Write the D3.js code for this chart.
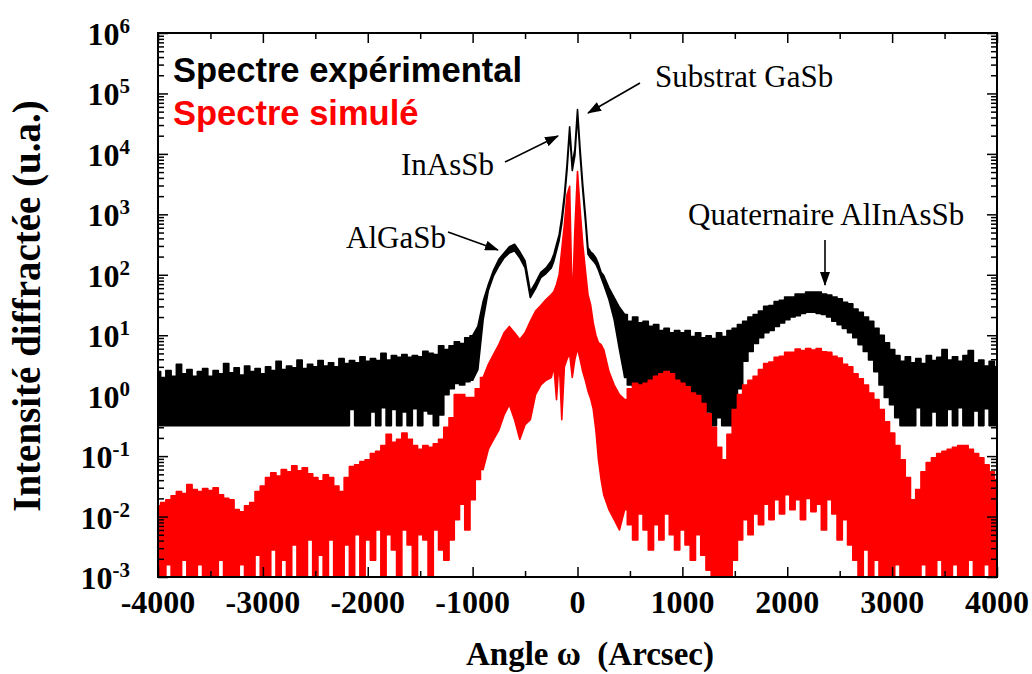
<!DOCTYPE html>
<html>
<head>
<meta charset="utf-8">
<script src="https://cdn.jsdelivr.net/npm/d3@7"></script>
<style>
  body { margin: 0; background: #fff; }
  svg { display: block; }
</style>
</head>
<body>
<div id="chart"></div>
<script>
// sampling grid of the spectra (Arcsec), finer around the substrate peak
const angles = [].concat(d3.range(-4000, -299, 50), d3.range(-250, 226, 25), d3.range(250, 4001, 50));

// experimental spectrum: upper and lower edge of the noisy trace (u.a.)
const expTop = [
  2.5, 2.0, 2.6, 2.1, 3.3, 2.3, 2.7, 2.1, 2.5, 2.8,
  2.1, 2.6, 2.3, 3.4, 2.4, 2.9, 2.2, 3.1, 2.5, 2.8,
  2.3, 3.0, 2.6, 3.7, 2.7, 3.1, 2.9, 3.9, 2.8, 3.3,
  3.0, 3.8, 3.1, 3.5, 3.0, 4.1, 3.4, 3.8, 3.5, 4.4,
  3.7, 4.1, 3.8, 5.0, 3.9, 4.6, 4.3, 4.8, 4.3, 4.6,
  4.4, 5.4, 5.0, 4.8, 6.7, 5.8, 6.7, 7.8, 7.3, 9.1,
  9.8, 14, 36, 69, 120, 180, 230, 290, 320, 240,
  170, 53, 74, 110, 130,
  170, 220, 320, 460, 890, 2100, 6700, 28000, 6700, 12000,
  54000, 12000, 3100, 990, 280, 240, 220, 190, 150, 110,
  97, 61, 42, 29, 22, 17, 20, 16, 17, 14,
  15, 12, 13, 11, 12, 11, 12, 9.5, 11, 9.1,
  9.8, 8.8, 11, 9.5, 12, 13, 15, 17, 20, 22,
  25, 30, 31, 36, 38, 43, 43, 48, 48, 52,
  52, 52, 48, 46, 43, 40, 35, 33, 27, 24,
  20, 17, 13, 10, 7.5, 5.8, 4.6, 3.7, 4.4, 3.5,
  4.1, 3.4, 4.6, 3.8, 4.3, 5.8, 3.9, 4.4, 3.7, 4.6,
  5.6, 3.5, 3.9, 3.1, 3.7, 3.0
];
const expBottom = [
  0.32, 0.32, 0.32, 0.32, 0.32, 0.32, 0.32, 0.32, 0.32, 0.32,
  0.32, 0.32, 0.32, 0.32, 0.32, 0.32, 0.32, 0.32, 0.32, 0.32,
  0.32, 0.32, 0.32, 0.32, 0.32, 0.32, 0.32, 0.32, 0.32, 0.32,
  0.32, 0.32, 0.32, 0.32, 0.32, 0.32, 0.32,
  0.59, 0.32, 0.32, 0.32, 0.54, 0.32, 0.63, 0.32, 0.59, 0.32,
  0.54, 0.32, 0.61, 0.32, 0.56, 0.50, 0.32,
  0.48, 1.04, 1.3, 1.6, 1.5, 1.7, 1.8, 2.7, 18, 55,
  97, 140, 190, 230, 250, 190, 130, 42, 59, 90, 105,
  130, 170, 250, 370, 700, 1700, 5300, 23000, 5300, 9400,
  43000, 9400, 2500, 790, 220, 190, 170, 150, 120, 90,
  69, 39, 18, 5.8, 2.0, 1.5, 1.4, 1.2, 1.04, 0.86,
  0.93, 0.59, 0.80, 0.48, 0.71, 0.40, 0.63, 0.32, 0.59, 0.32,
  0.54, 0.32, 0.43, 0.32, 0.32, 0.48, 1.3, 3.7, 5.4, 7.3,
  9.1, 11, 12, 14, 16, 18, 20, 21, 23, 24,
  24, 23, 22, 20, 17, 15, 13, 11, 9.1, 7.0,
  5.4, 3.9, 2.5, 1.5, 0.93, 0.71, 0.43, 0.32, 0.32, 0.32,
  0.63, 0.32, 0.32, 0.54, 0.32, 0.32, 0.59, 0.32, 0.63, 0.32,
  0.32, 0.56, 0.32, 0.61, 0.32, 0.32
];

// simulated spectrum: upper and lower edge of the fringes (u.a.)
const simTop = [
  0.015, 0.017, 0.019, 0.022, 0.026, 0.024, 0.034, 0.028, 0.026, 0.029,
  0.027, 0.030, 0.023, 0.020, 0.019, 0.013, 0.012, 0.015, 0.017, 0.026,
  0.032, 0.044, 0.053, 0.047, 0.060, 0.055, 0.069, 0.057, 0.064, 0.051,
  0.044, 0.039, 0.049, 0.044, 0.032, 0.026, 0.044, 0.067, 0.072, 0.081,
  0.087, 0.11, 0.12, 0.15, 0.23, 0.17, 0.19, 0.24, 0.19, 0.15,
  0.13, 0.15, 0.14, 0.16, 0.19, 0.30, 0.43, 1.04, 1.04, 0.93,
  0.93, 1.3, 2.0, 3.3, 4.8, 7.0, 11, 14, 11, 8.5,
  11, 17, 25, 31, 39,
  47, 53, 69, 100, 260, 680, 2100, 2900, 30, 560,
  5100, 1200, 320, 120, 47, 32, 16, 10, 7.5, 7.0,
  5.8, 2.5, 1.5, 1.04, 0.86, 1.3, 1.6, 1.5, 1.6, 1.8,
  2.1, 2.3, 2.5, 2.3, 1.8, 1.6, 1.4, 1.1, 1.0, 0.74,
  0.50, 0.30, 0.14, 0.087, 0.23, 0.59, 1.04, 1.5, 1.8, 2.1,
  2.7, 3.4, 3.6, 4.3, 4.5, 5.2, 5.2, 5.9, 5.6, 6.0,
  5.7, 6.0, 5.3, 5.2, 4.5, 4.2, 3.3, 3.0, 2.3, 1.9,
  1.5, 1.1, 0.86, 0.59, 0.37, 0.24, 0.15, 0.087, 0.044, 0.019,
  0.028, 0.055, 0.078, 0.094, 0.11, 0.12, 0.13, 0.14, 0.15, 0.15,
  0.13, 0.11, 0.094, 0.072, 0.055, 0.041
];
const simBottom = [
  0.001, 0.001, 0.0016, 0.001, 0.001, 0.0019, 0.001, 0.001, 0.0016, 0.001,
  0.001, 0.001, 0.0019, 0.001, 0.001, 0.001, 0.0016, 0.001, 0.001, 0.0023,
  0.001, 0.001, 0.0028, 0.001, 0.0019, 0.001, 0.0034, 0.001, 0.001, 0.0041,
  0.001, 0.0023, 0.001, 0.0041, 0.001, 0.001, 0.0034, 0.001, 0.005, 0.001,
  0.0041, 0.0019, 0.006, 0.001, 0.005, 0.0028, 0.001, 0.006, 0.0034, 0.001,
  0.005, 0.0041, 0.001, 0.006, 0.0028, 0.0019, 0.0041, 0.0089, 0.016, 0.006,
  0.019, 0.041, 0.060, 0.13, 0.19, 0.27, 0.48, 0.71, 0.40, 0.19,
  0.33, 0.40, 1.04, 1.5, 1.8,
  2.0, 3.0, 0.86, 4.0, 0.40, 3.0, 4.0, 5.0, 2.0, 4.0,
  6.0, 4.0, 2.5, 1.8, 1.2, 0.9, 0.6, 0.27, 0.087, 0.041,
  0.023, 0.013, 0.0089, 0.006, 0.013, 0.0073, 0.0041, 0.011, 0.006, 0.0028,
  0.0073, 0.0041, 0.011, 0.005, 0.0028, 0.006, 0.0034, 0.0019, 0.005, 0.0023,
  0.0013, 0.001, 0.001, 0.001, 0.001, 0.0019, 0.0041, 0.0089, 0.005, 0.011,
  0.0073, 0.016, 0.0089, 0.019, 0.011, 0.023, 0.013, 0.019, 0.0089, 0.020,
  0.012, 0.016, 0.006, 0.019, 0.011, 0.0041, 0.0089, 0.0034, 0.0019, 0.001,
  0.0028, 0.001, 0.0019, 0.001, 0.001, 0.001, 0.0016, 0.001, 0.001, 0.001,
  0.001, 0.0016, 0.001, 0.001, 0.0019, 0.001, 0.001, 0.0016, 0.001, 0.001,
  0.0019, 0.001, 0.001, 0.0016, 0.001, 0.001
];

// axis ticks
const xTicks = [-4000, -3000, -2000, -1000, 0, 1000, 2000, 3000, 4000];
const xMinorTicks = [-3500, -2500, -1500, -500, 500, 1500, 2500, 3500];
const yExponents = [-3, -2, -1, 0, 1, 2, 3, 4, 5, 6];

// legend and annotations
const legendLabels = ["Spectre expérimental", "Spectre simulé"];
const peakLabels = ["Substrat GaSb", "InAsSb", "AlGaSb", "Quaternaire AlInAsSb"];

var W = 1032, H = 674;
var margin = {top: 33, right: 35, bottom: 97, left: 158},
    width = W - margin.left - margin.right,
    height = H - margin.top - margin.bottom;

var x = d3.scaleLinear().domain([-4000, 4000]).range([0, width]);
var y = d3.scaleLog().domain([1e-3, 1e6]).range([height, 0]);

var root = d3.select('#chart').append('svg')
    .attr('width', W)
    .attr('height', H);

var defs = root.append('defs');
defs.append('clipPath').attr('id', 'clip')
    .append('rect').attr('width', width).attr('height', height);
defs.append('marker')
    .attr('id', 'head')
    .attr('markerUnits', 'userSpaceOnUse')
    .attr('markerWidth', 14).attr('markerHeight', 10)
    .attr('refX', 13).attr('refY', 5)
    .attr('orient', 'auto')
    .append('path').attr('d', 'M0,0 L14,5 L0,10 Z').attr('fill', 'black');

var svg = root.append('g')
    .attr('transform', 'translate(' + margin.left + ',' + margin.top + ')');

// spectra: noisy background drawn stepwise, peaks drawn as lines
var plot = svg.append('g').attr('clip-path', 'url(#clip)');

function band(top, bottom, from, to, curve) {
    var idx = d3.range(angles.length).filter(i => angles[i] >= from && angles[i] <= to);
    return d3.area()
        .curve(curve)
        .x(i => x(angles[i]))
        .y0(i => y(bottom[i]))
        .y1(i => y(top[i]))(idx);
}

function spectrum(top, bottom, from, to, color) {
    [[-4000, from, d3.curveStep], [from, to, d3.curveLinear], [to, 4000, d3.curveStep]]
        .forEach(s => {
            plot.append('path')
                .attr('d', band(top, bottom, s[0], s[1], s[2]))
                .attr('fill', color)
                .attr('stroke', color)
                .attr('stroke-width', 1.6)
                .attr('stroke-linejoin', 'round');
        });
}

spectrum(expTop, expBottom, -1000, 450, 'black');
spectrum(simTop, simBottom, -900, 450, '#ff0000');

// ticks on all four sides, pointing inward
var decades = yExponents.map(e => Math.pow(10, e));
var yMinor = [];
decades.slice(0, -1).forEach(d => { for (var k = 2; k < 10; k++) yMinor.push(d * k); });

function ticks(axis, values, size, tr) {
    var g = svg.append('g').attr('transform', tr || null)
        .call(axis.tickValues(values).tickSize(-size).tickFormat(''));
    g.select('.domain').remove();
    g.selectAll('line').attr('stroke', 'black').attr('stroke-width', 1.5);
}
ticks(d3.axisBottom(x), xTicks, 10, 'translate(0,' + height + ')');
ticks(d3.axisBottom(x), xMinorTicks, 6, 'translate(0,' + height + ')');
ticks(d3.axisTop(x), xTicks, 10);
ticks(d3.axisTop(x), xMinorTicks, 6);
ticks(d3.axisLeft(y), decades, 10);
ticks(d3.axisLeft(y), yMinor, 6);
ticks(d3.axisRight(y), decades, 10, 'translate(' + width + ',0)');
ticks(d3.axisRight(y), yMinor, 6, 'translate(' + width + ',0)');

// frame
svg.append('rect')
    .attr('width', width)
    .attr('height', height)
    .attr('fill', 'none')
    .attr('stroke', 'black')
    .attr('stroke-width', 2);

// tick labels
svg.selectAll('.xlab').data(xTicks).enter().append('text')
    .attr('x', d => x(d))
    .attr('y', height + 36)
    .attr('text-anchor', 'middle')
    .style('font', 'bold 32px "Liberation Serif", serif')
    .text(d => d);

var ylab = svg.selectAll('.ylab').data(yExponents).enter().append('text')
    .attr('x', -28)
    .attr('y', d => y(Math.pow(10, d)) + 12)
    .attr('text-anchor', 'end')
    .style('font', 'bold 32px "Liberation Serif", serif');
ylab.append('tspan').text('10');
ylab.append('tspan')
    .attr('dy', -12)
    .style('font-size', '21px')
    .text(d => d);

// axis titles
root.append('text')
    .attr('transform', 'translate(40,306) rotate(-90)')
    .attr('text-anchor', 'middle')
    .style('font', 'bold 39px "Liberation Serif", serif')
    .text('Intensité diffractée (u.a.)');

root.append('text')
    .attr('x', 590)
    .attr('y', 665)
    .attr('text-anchor', 'middle')
    .style('font', 'bold 33px "Liberation Serif", serif')
    .text('Angle ω\u00a0 (Arcsec)');

// legend
root.append('text')
    .attr('x', 173).attr('y', 82)
    .attr('fill', 'black')
    .style('font', 'bold 34.5px "Liberation Sans", Arial, sans-serif')
    .text(legendLabels[0]);
root.append('text')
    .attr('x', 173).attr('y', 125)
    .attr('fill', '#ff0000')
    .style('font', 'bold 34.5px "Liberation Sans", Arial, sans-serif')
    .text(legendLabels[1]);

// peak annotations
var notes = [
    {t: peakLabels[0], x: 655, y: 87,  a: [640, 83, 588, 113]},
    {t: peakLabels[1], x: 401, y: 175, a: [505, 162, 558, 136]},
    {t: peakLabels[2], x: 346, y: 248, a: [448, 232, 498, 250]},
    {t: peakLabels[3], x: 688, y: 225, a: [825, 240, 825, 285]}
];
notes.forEach(n => {
    root.append('text')
        .attr('x', n.x).attr('y', n.y)
        .style('font', '31px "Liberation Serif", serif')
        .text(n.t);
    root.append('line')
        .attr('x1', n.a[0]).attr('y1', n.a[1])
        .attr('x2', n.a[2]).attr('y2', n.a[3])
        .attr('stroke', 'black')
        .attr('stroke-width', 1.6)
        .attr('marker-end', 'url(#head)');
});
</script>
</body>
</html>
